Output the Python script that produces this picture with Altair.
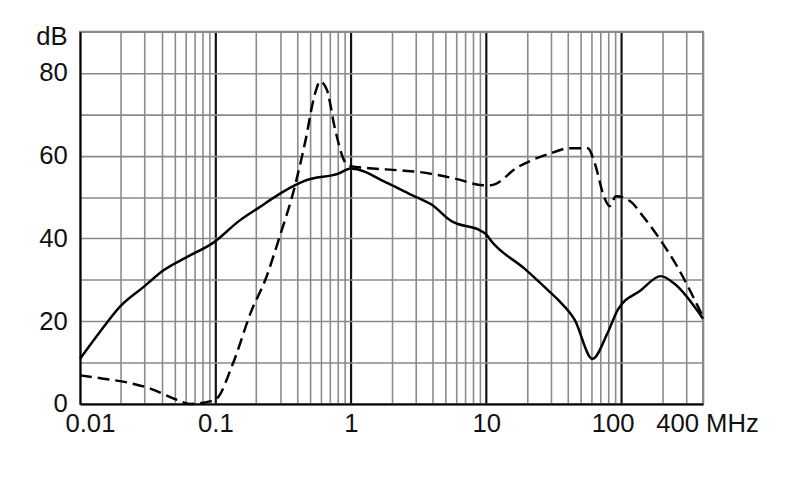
import altair as alt
import pandas as pd

# Solid curve (frequency in MHz, level in dB)
solid_f = [0.01, 0.0133, 0.0198, 0.0295, 0.0414, 0.0615, 0.0966, 0.149, 0.208, 0.292, 0.388, 0.46,
           0.81, 1.0, 1.89, 2.66, 3.15, 3.95, 5.54, 6.2, 8.71, 10, 10.9, 19.2, 28.6, 33.9, 45,
           61, 79, 94, 139, 195, 245, 400]
solid_db = [10.9, 16.4, 23.6, 28.3, 32.3, 35.5, 39.0, 44.2, 47.4, 50.6, 52.9, 54.0,
            55.7, 56.9, 53.3, 50.9, 49.8, 48.2, 44.2, 43.5, 42.2, 41.0, 39.4, 32.7, 27.5, 25.2, 20.4,
            10.9, 17.2, 22.8, 27.5, 30.9, 29.1, 20.6]

# Dashed curve
dashed_f = [0.01, 0.0149, 0.0222, 0.033, 0.0518, 0.065, 0.091, 0.103, 0.133, 0.186, 0.233, 0.292,
            0.388, 0.46, 0.546, 0.593, 0.665, 0.766, 0.906, 1.0, 1.28, 2.24, 3.15, 5.87, 9.48,
            10.8, 17.2, 31.8, 40, 56.5, 63, 74.8, 81.5, 91, 116, 147, 195, 259, 400]
dashed_db = [6.9, 6.1, 5.2, 3.7, 1.0, 0.0, 0.6, 1.4, 9.3, 22.8, 29.9, 39.5,
             52.9, 63.3, 75.2, 78.0, 76.0, 66.4, 58.5, 57.5, 57.1, 56.5, 56.1, 54.5, 52.9,
             52.9, 57.3, 60.9, 61.8, 61.8, 58.5, 49.8, 47.8, 50.2, 49.0, 45.0, 39.5, 33.1, 21.0]

# Grid / tick values
x_ticks = [0.01, 0.02, 0.03, 0.04, 0.05, 0.06, 0.07, 0.08, 0.09,
           0.1, 0.2, 0.3, 0.4, 0.5, 0.6, 0.7, 0.8, 0.9,
           1, 2, 3, 4, 5, 6, 7, 8, 9,
           10, 20, 30, 40, 50, 60, 70, 80, 90,
           100, 200, 300, 400]
y_ticks = [0, 10, 20, 30, 40, 50, 60, 70, 80, 90]

df_solid = pd.DataFrame({"f": solid_f, "db": solid_db})
df_dashed = pd.DataFrame({"f": dashed_f, "db": dashed_db})

FONT = "Liberation Sans"
FS = 26
decade_test = "datum.value == 0.1 || datum.value == 1 || datum.value == 10 || datum.value == 100"

x_enc = alt.X(
    "f:Q",
    title=None,
    scale=alt.Scale(type="log", domain=[0.01, 400], nice=False),
    axis=alt.Axis(
        values=x_ticks,
        grid=True,
        ticks=False,
        domainColor="black",
        domainWidth=2,
        gridColor={"condition": {"test": decade_test, "value": "#111111"}, "value": "#8a8a8a"},
        gridWidth={"condition": {"test": decade_test, "value": 2.2}, "value": 1.6},
        labelExpr="datum.value == 0.01 ? '0.01' : datum.value == 0.1 ? '0.1' : datum.value == 1 ? '1' : "
                  "datum.value == 10 ? '10' : datum.value == 100 ? '100' : datum.value == 400 ? '400 MHz' : ''",
        labelOffset={"condition": [
            {"test": "datum.value == 0.01", "value": 10},
            {"test": "datum.value == 100", "value": -9},
            {"test": "datum.value == 400", "value": 4}], "value": 0},
        labelFlush=False,
        labelOverlap=False,
        labelFont=FONT,
        labelFontSize=FS,
        labelColor="#111111",
        labelPadding=7,
    ),
)

y_enc = alt.Y(
    "db:Q",
    title=None,
    scale=alt.Scale(domain=[0, 90], nice=False),
    axis=alt.Axis(
        values=y_ticks,
        grid=True,
        ticks=False,
        domainColor="black",
        domainWidth=2,
        gridColor="#8a8a8a",
        gridWidth=1.6,
        labelExpr="datum.value == 90 ? 'dB' : (datum.value % 20 == 0 ? datum.label : '')",
        labelOffset={"condition": {"test": "datum.value == 90", "value": 5}, "value": 0},
        labelOverlap=False,
        labelFont=FONT,
        labelFontSize=FS,
        labelColor="#111111",
        labelPadding=13,
    ),
)

solid = alt.Chart(df_solid).mark_line(
    color="black", strokeWidth=2.5, interpolate="monotone"
).encode(x=x_enc, y=y_enc)

dashed = alt.Chart(df_dashed).mark_line(
    color="black", strokeWidth=2.5, strokeDash=[12, 6], interpolate="monotone"
).encode(x=x_enc, y=y_enc)

chart = alt.layer(solid, dashed).properties(
    width=631,
    height=377,
    background="white",
    autosize=alt.AutoSizeParams(type="none"),
    padding={"left": 73, "top": 21, "right": 80, "bottom": 70},
).configure_view(stroke="#8a8a8a", strokeWidth=2)

chart.save("out.html", embed_options={"renderer": "svg", "actions": False})
